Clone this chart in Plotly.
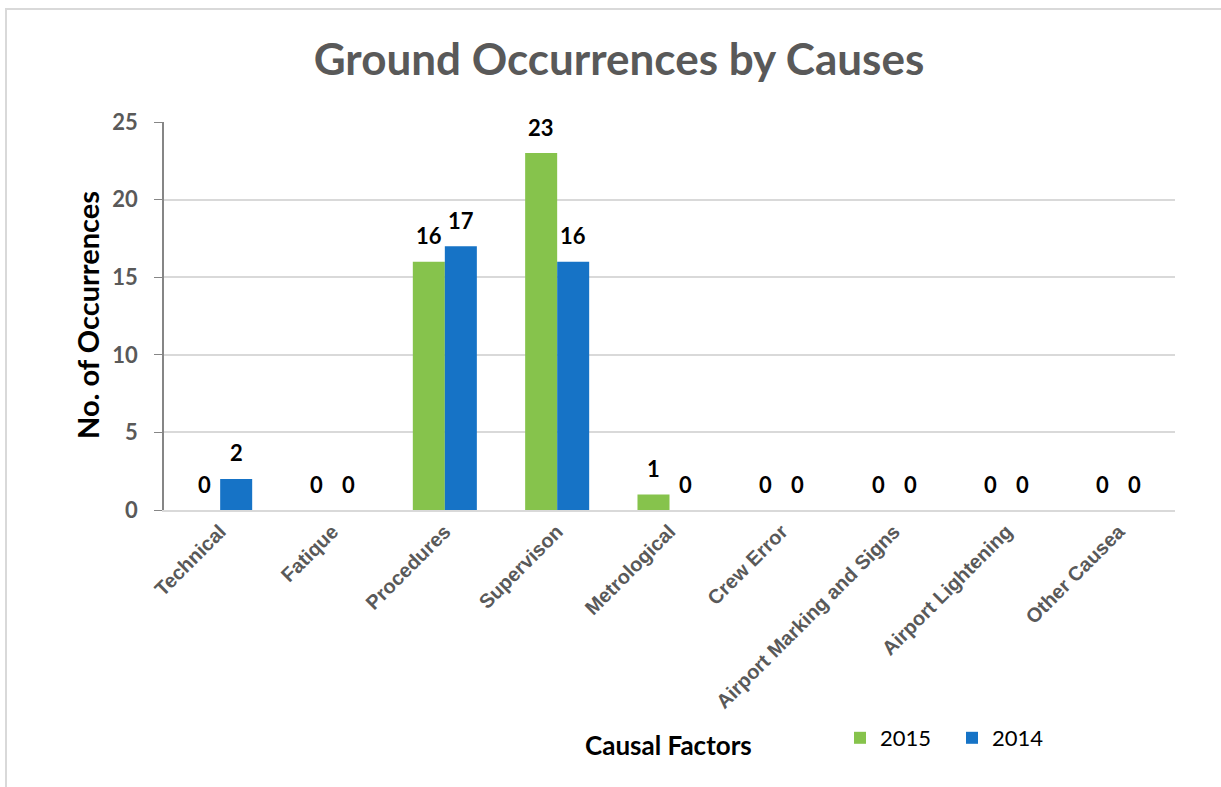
import plotly.graph_objects as go

categories = ["Technical", "Fatique", "Procedures", "Supervison", "Metrological",
              "Crew Error", "Airport Marking and Signs", "Airport Lightening", "Other Causea"]
values_2015 = [0, 0, 16, 23, 1, 0, 0, 0, 0]
values_2014 = [2, 0, 17, 16, 0, 0, 0, 0, 0]

W, H = 1221, 787
L, R, T, B = 164, 46, 122, 277
PW, PH = W - L - R, H - T - B

def px_x(x):
    return (x - L) / PW

def px_y(y):
    return (H - B - y) / PH

label_font = dict(family="Lato", size=22, color="#000000", weight="bold")

fig = go.Figure()
fig.add_trace(go.Bar(
    name="2015", x=categories, y=values_2015,
    marker=dict(color="#86c34c", line=dict(width=0)),
))
fig.add_trace(go.Bar(
    name="2014", x=categories, y=values_2014,
    marker=dict(color="#1673c6", line=dict(width=0)),
))

# value labels above each bar (bars are 32 px wide, grouped side by side)
for series, shift in ((values_2015, -16), (values_2014, 16)):
    for cat, v in zip(categories, series):
        fig.add_annotation(x=cat, y=v, xref="x", yref="y", text=str(v),
                           showarrow=False, xshift=shift, yshift=26,
                           xanchor="center", yanchor="middle", font=label_font)

fig.update_layout(
    width=W, height=H,
    margin=dict(l=L, r=R, t=T, b=B),
    paper_bgcolor="white", plot_bgcolor="white",
    barmode="group", bargap=0.43, bargroupgap=0,
    title=dict(text="Ground Occurrences by Causes",
               font=dict(family="Lato", size=44, color="#595959", weight="bold"),
               x=619 / W, xref="container", xanchor="center",
               y=1 - 60 / H, yref="container", yanchor="middle"),
    font=dict(family="Lato"),
    showlegend=True,
    legend=dict(orientation="h", x=px_x(840), y=px_y(738), xanchor="left", yanchor="middle",
                font=dict(family="Lato", size=22, color="#000000"),
                entrywidth=67, traceorder="normal", bgcolor="rgba(0,0,0,0)"),
    xaxis=dict(tickangle=-45, showline=True, linecolor="#d9d9d9", linewidth=2,
               ticks="", tickfont=dict(family="Liberation Sans", size=20, color="#595959",
                                       weight="bold"),
               showgrid=False),
    yaxis=dict(range=[0, 25], dtick=5, showgrid=True, gridcolor="#d9d9d9", gridwidth=1.5,
               showline=True, linecolor="#868686", linewidth=1.5,
               ticks="outside", ticklen=8, tickcolor="#868686", ticklabelstandoff=12,
               tickfont=dict(family="Lato", size=22, color="#595959", weight="bold"),
               zeroline=False),
)

fig.add_annotation(text="No. of Occurrences", xref="paper", yref="paper",
                   x=px_x(87), y=px_y(315), textangle=-90, showarrow=False,
                   font=dict(family="Lato", size=29, color="#000000", weight="bold"),
                   xanchor="center", yanchor="middle")
fig.add_annotation(text="Causal Factors", xref="paper", yref="paper",
                   x=px_x(668), y=px_y(745), showarrow=False,
                   font=dict(family="Lato", size=26, color="#000000", weight="bold"),
                   xanchor="center", yanchor="middle")

# chart frame
fig.add_shape(type="rect", xref="paper", yref="paper",
              x0=px_x(6), y0=px_y(830), x1=px_x(1260), y1=px_y(9),
              line=dict(color="#d9d9d9", width=2), layer="below")

fig.write_html("out.html")
